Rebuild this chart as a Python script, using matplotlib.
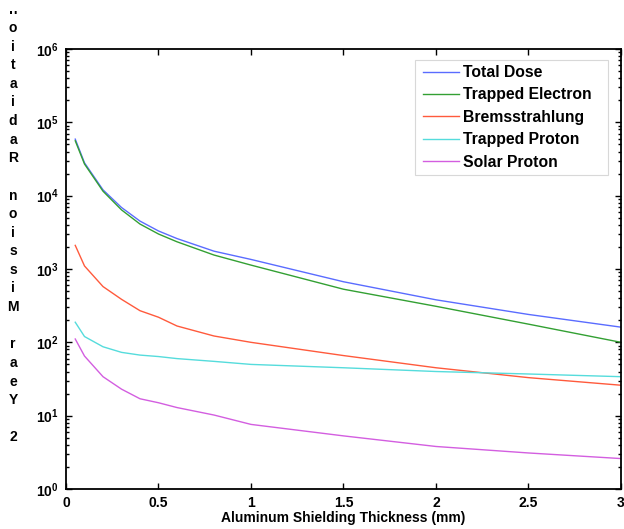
import numpy as np
import matplotlib
matplotlib.use('Agg')
from matplotlib import pyplot as plt
from matplotlib.ticker import FuncFormatter, LogLocator, NullFormatter
from matplotlib.patches import Rectangle
from matplotlib.transforms import Bbox

# Shielding depths (mm Al)
thickness = [0.05, 0.1, 0.2, 0.3, 0.4, 0.5, 0.6, 0.8, 1.0, 1.5, 2.0, 2.5, 3.0]

# Dose for each source (2 year mission)
total_dose = [5.9e4, 2.8e4, 1.2e4, 6.9e3, 4.5e3, 3.3e3, 2.6e3, 1.75e3, 1.35e3, 670, 380, 240, 161]
trapped_electron = [5.6e4, 2.7e4, 1.15e4, 6.4e3, 4.1e3, 3.0e3, 2.35e3, 1.55e3, 1.13e3, 530, 310, 177, 100]
bremsstrahlung = [2.1e3, 1.1e3, 576, 386, 270, 220, 167, 122, 100, 66, 45, 33, 26]
trapped_proton = [188, 120, 87, 73, 67, 64, 60, 55, 50, 45, 40, 37, 34]
solar_proton = [111, 65, 34, 23, 17, 15, 12.9, 10.2, 7.6, 5.3, 3.8, 3.1, 2.6]

series_names = ['Total Dose', 'Trapped Electron', 'Bremsstrahlung', 'Trapped Proton', 'Solar Proton']
series_colors = ['#5a6cff', '#33a033', '#ff5a3c', '#55dcdc', '#d35ee0']

xtick_values = [0, 0.5, 1, 1.5, 2, 2.5, 3]
xtick_labels = ['0', '0.5', '1', '1.5', '2', '2.5', '3']
ylabel_text = '2 Year Mission Radiation'

plt.rcParams['font.family'] = 'Liberation Sans'
plt.rcParams['font.weight'] = 'bold'
plt.rcParams['mathtext.fontset'] = 'custom'
plt.rcParams['mathtext.rm'] = 'Liberation Sans:bold'
plt.rcParams['mathtext.bf'] = 'Liberation Sans:bold'

W, H = 624, 529
fig = plt.figure(figsize=(W / 100, H / 100), dpi=100)
ax = fig.add_axes([66 / W, 40 / H, 555 / W, 440 / H])

all_series = [total_dose, trapped_electron, bremsstrahlung, trapped_proton, solar_proton]
for vals, name, col in zip(all_series, series_names, series_colors):
    ax.plot(thickness, vals, color=col, lw=1.0, label=name)

ax.set_yscale('log')
ax.set_xlim(0, 3)
ax.set_ylim(1, 1e6)

ax.set_xticks(xtick_values)
ax.set_xticklabels(xtick_labels)
ax.yaxis.set_major_locator(LogLocator(base=10, numticks=10))
ax.yaxis.set_minor_locator(LogLocator(base=10, subs=np.arange(2, 10), numticks=20))
ax.yaxis.set_minor_formatter(NullFormatter())
ax.yaxis.set_major_formatter(FuncFormatter(lambda v, p: r'$\mathbf{10^{%d}}$' % round(np.log10(v))))

ax.tick_params(which='both', direction='in', top=True, right=True, labelsize=10, width=1.0, pad=5)
ax.tick_params(which='major', length=4)
ax.tick_params(which='minor', length=2.5)
for sp in ax.spines.values():
    sp.set_linewidth(1.3)

ax.set_xlabel('Aluminum Shielding Thickness (mm)', fontsize=10, fontweight='bold', labelpad=1)

# y label drawn as upright characters stacked top to bottom (reversed)
chars = list(ylabel_text)[::-1]
for i, ch in enumerate(chars):
    if ch == ' ':
        continue
    t = fig.text(13 / W, 1 - (9.5 + i * 18.6) / H, ch, ha='center', va='center',
                 fontsize=10, fontweight='bold')
    if i == 0:
        # first glyph runs off the top of the figure, only its feet show
        t.set_clip_box(Bbox([[0, H - 14.5], [30, H - 10.5]]))
        t.set_clip_on(True)

# legend without its own frame, plus a plain box drawn behind it
leg = ax.legend(loc='upper left', bbox_to_anchor=(423 / W, 1 - 65 / H),
                bbox_transform=fig.transFigure, borderaxespad=0, borderpad=0,
                fontsize=11.3, handlelength=2.3, handletextpad=0.25,
                labelspacing=0.47, frameon=False)
for t in leg.get_texts():
    t.set_fontweight('bold')
ax.add_patch(Rectangle((415 / W, 1 - 175 / H), 193 / W, 115 / H,
                       transform=fig.transFigure, facecolor='white',
                       edgecolor='#d8d8d8', lw=0.8, zorder=4, clip_on=False))

fig.savefig('out.png', dpi=100)
